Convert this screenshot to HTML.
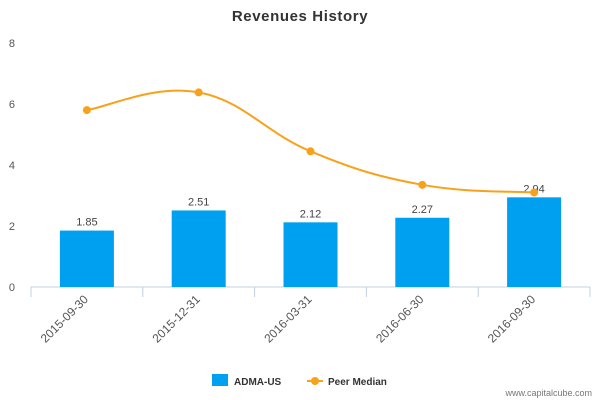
<!DOCTYPE html>
<html><head><meta charset="utf-8"><style>
body{margin:0;background:#fff;}
svg{font-family:"Liberation Sans",sans-serif;display:block}
</style></head><body>
<svg id="c" width="600" height="400">
<text x="300" y="21" text-anchor="middle" font-size="15" font-weight="bold" letter-spacing="0.6" fill="#333">Revenues History</text>
<g id="grid"></g><g id="bars"></g><g id="line"></g><g id="xl"></g>
<g>
<rect x="212" y="374" width="16" height="12" fill="#00a0f0"/>
<text x="234" y="385" font-size="10" font-weight="bold" fill="#333">ADMA-US</text>
<line x1="307" y1="381" x2="323" y2="381" stroke="#f8a21b" stroke-width="2"/>
<circle cx="315" cy="381" r="4" fill="#f8a21b"/>
<text x="328" y="385" font-size="10" font-weight="bold" fill="#333">Peer Median</text>
</g>
<text x="592" y="396" text-anchor="end" font-size="9" fill="#777">www.capitalcube.com</text>
</svg>
<script>
const categories=["2015-09-30","2015-12-31","2016-03-31","2016-06-30","2016-09-30"];
const admaValues=[1.85,2.51,2.12,2.27,2.94];
const peerValues=[5.8,6.38,4.45,3.35,3.1];
const yTicks=[0,2,4,6,8];
const NS="http://www.w3.org/2000/svg";
const L=31,R=590,Y0=287,Y8=43;
const band=(R-L)/categories.length;
const x=i=>L+band*(i+0.5);
const y=v=>Y0-(Y0-Y8)*v/8;
function mk(t,a,p){const e=document.createElementNS(NS,t);for(const k in a)e.setAttribute(k,a[k]);p.appendChild(e);return e;}
const g=document.getElementById('grid');
yTicks.forEach(v=>{const t=mk('text',{x:15,y:y(v)+4,'text-anchor':'end','font-size':11,fill:'#555'},g);t.textContent=v;

});
const ax=mk('line',{x1:L,y1:Y0,x2:R,y2:Y0,stroke:'#c0d0e0'},g);


for(let i=0;i<=categories.length;i++){mk('line',{x1:L+band*i,y1:Y0,x2:L+band*i,y2:Y0+10,stroke:'#c0d0e0'},g);}
const b=document.getElementById('bars');
admaValues.forEach((v,i)=>{const r=mk('rect',{x:x(i)-27,y:y(v),width:54,height:Y0-y(v),fill:'#00a0f0'},b);


const t=mk('text',{x:x(i),y:y(v)-5,'text-anchor':'middle','font-size':11,fill:'#444'},b);t.textContent=v.toFixed(2);

});
const ln=document.getElementById('line');
const P=peerValues.map((v,i)=>[x(i),y(v)]);
let d='M'+P[0];
for(let i=0;i<P.length-1;i++){const p0=P[i-1]||P[i],p1=P[i],p2=P[i+1],p3=P[i+2]||p2;const s=0.2;
d+=' C'+(p1[0]+(p2[0]-p0[0])*s)+','+(p1[1]+(p2[1]-p0[1])*s)+' '+(p2[0]-(p3[0]-p1[0])*s)+','+(p2[1]-(p3[1]-p1[1])*s)+' '+p2;}
const path=mk('path',{d:d,fill:'none',stroke:'#f8a21b','stroke-width':2},ln);


P.forEach((p,i)=>{const c=mk('circle',{cx:p[0],cy:p[1],r:4,fill:'#f8a21b'},ln);

});
const xl=document.getElementById('xl');
categories.forEach((c,i)=>{const t=mk('text',{x:x(i)+2,y:Y0+13,'text-anchor':'end','font-size':12,fill:'#555',transform:`rotate(-45 ${x(i)+2} ${Y0+13})`},xl);t.textContent=c;

});
</script>
</body></html>
